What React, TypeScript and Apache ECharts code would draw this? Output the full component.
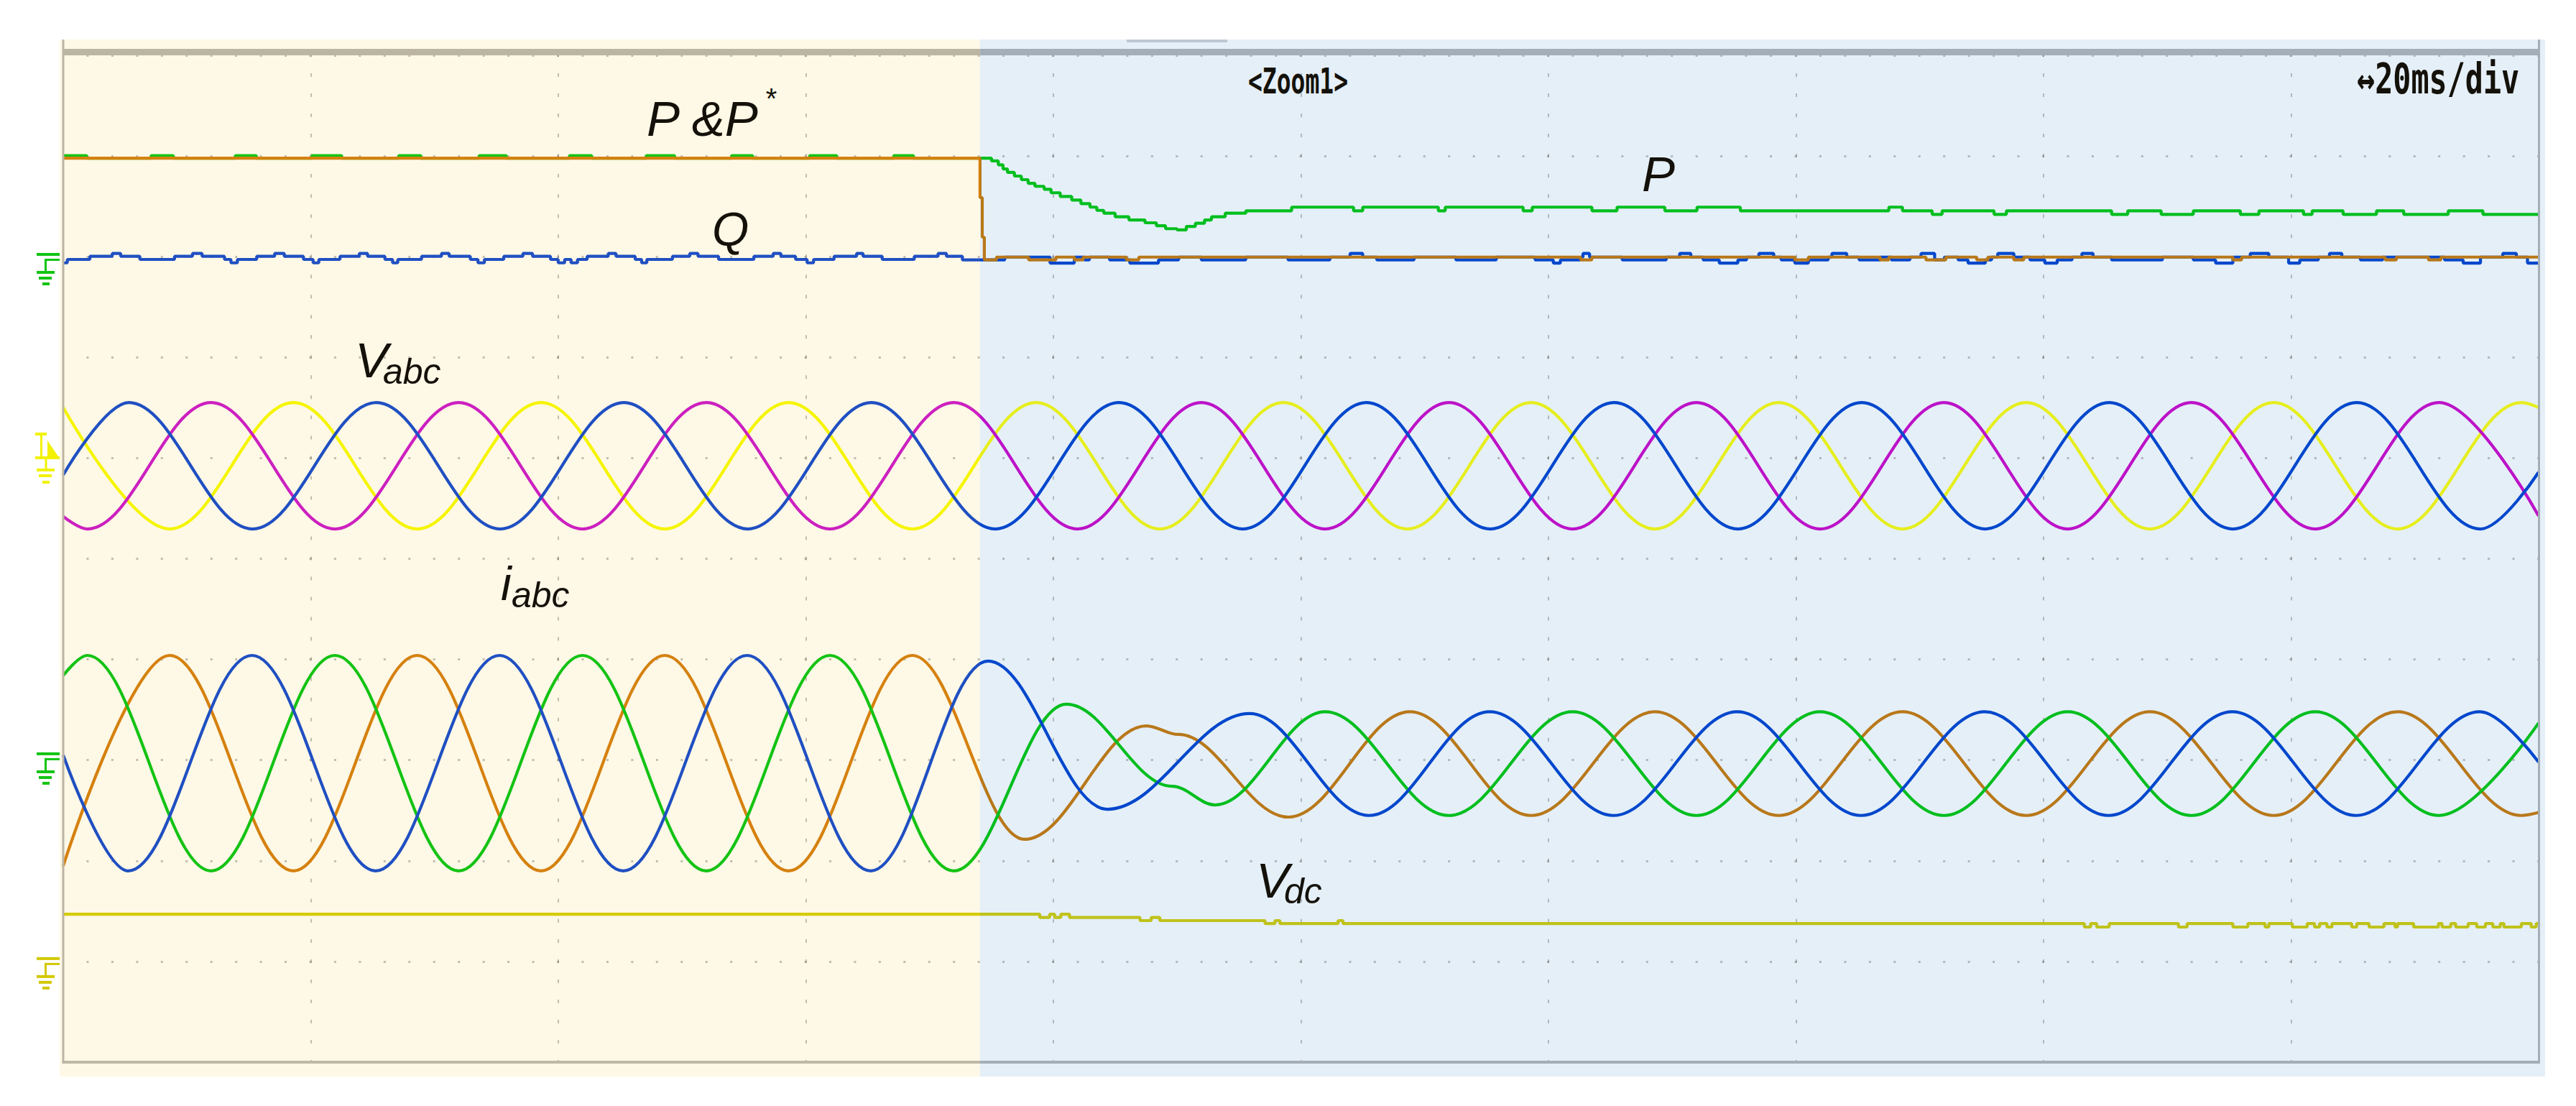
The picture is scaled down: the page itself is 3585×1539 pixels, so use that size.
import React, { useEffect, useRef } from "react";
import * as echarts from "echarts";

type Pt = [number, number];

const CANVAS_W = 3585;
const CANVAS_H = 1539;

// time axis: 20 ms/div, 10 divisions ; level axis: 10 divisions
const TIME_MIN = 0;
const TIME_MAX = 200;
const TIME_DIV = 20;
const LEVEL_MIN = -5;
const LEVEL_MAX = 5;
const LEVEL_DIV = 1;
const EVENT_TIME = 74.07; // ms where the zoom window (blue) starts

// channel ground-marker levels (divisions): P/Q, Vabc, iabc, Vdc
const groundLevels = [3.037, 1.253, -1.923, -3.957];

// ---------- Vabc extremes [ms, div] ----------
const vaBlue: Pt[] = [[0,0.832],[5.3,1.552],[15.3,0.296],[25.3,1.552],[35.3,0.296],[45.3,1.552],[55.3,0.296],[65.3,1.552],[75.3,0.296],[85.3,1.552],[95.3,0.296],[105.3,1.552],[115.3,0.296],[125.3,1.552],[135.3,0.296],[145.3,1.552],[155.3,0.296],[165.3,1.552],[175.3,0.296],[185.3,1.552],[195.3,0.296],[200,0.86]];
const vaMagenta: Pt[] = [[0,0.421],[1.95,0.296],[11.95,1.552],[21.95,0.296],[31.95,1.552],[41.95,0.296],[51.95,1.552],[61.95,0.296],[71.95,1.552],[81.95,0.296],[91.95,1.552],[101.95,0.296],[111.95,1.552],[121.95,0.296],[131.95,1.552],[141.95,0.296],[151.95,1.552],[161.95,0.296],[171.95,1.552],[181.95,0.296],[191.95,1.552],[200,0.425]];
const vaYellow: Pt[] = [[0,1.502],[8.6,0.296],[18.6,1.552],[28.6,0.296],[38.6,1.552],[48.6,0.296],[58.6,1.552],[68.6,0.296],[78.6,1.552],[88.6,0.296],[98.6,1.552],[108.6,0.296],[118.6,1.552],[128.6,0.296],[138.6,1.552],[148.6,0.296],[158.6,1.552],[168.6,0.296],[178.6,1.552],[188.6,0.296],[198.6,1.552],[200,1.502]];

// ---------- iabc extremes [ms, div] ----------
const iaGreen: Pt[] = [[0,-1.16],[1.95,-0.96],[11.95,-3.10],[21.95,-0.96],[31.95,-3.10],[41.95,-0.96],[51.95,-3.10],[61.95,-0.96],[71.95,-3.10],[81.05,-1.445],[89.6,-2.26],[93.07,-2.445],[101.95,-1.52],[111.95,-2.55],[121.95,-1.52],[131.95,-2.55],[141.95,-1.52],[151.95,-2.55],[161.95,-1.52],[171.95,-2.55],[181.95,-1.52],[191.95,-2.55],[200,-1.63]];
const iaOrange: Pt[] = [[0,-3.05],[8.6,-0.96],[18.6,-3.10],[28.6,-0.96],[38.6,-3.10],[48.6,-0.96],[58.6,-3.10],[68.6,-0.96],[77.68,-2.787],[87.5,-1.66],[90.1,-1.745],[98.99,-2.566],[108.8,-1.52],[118.6,-2.55],[128.6,-1.52],[138.6,-2.55],[148.6,-1.52],[158.6,-2.55],[168.6,-1.52],[178.6,-2.55],[188.6,-1.52],[198.6,-2.55],[200,-2.52]];
const iaBlue: Pt[] = [[0,-1.95],[5.25,-3.10],[15.25,-0.96],[25.25,-3.10],[35.25,-0.96],[45.25,-3.10],[55.25,-0.96],[65.25,-3.10],[74.72,-1.016],[84.36,-2.488],[95.86,-1.538],[105.5,-2.55],[115.25,-1.52],[125.25,-2.55],[135.25,-1.52],[145.25,-2.55],[155.25,-1.52],[165.25,-2.55],[175.25,-1.52],[185.25,-2.55],[195.25,-1.52],[200,-2.02]];

// ---------- P (measured), P* (reference), Q : step traces ----------
const pMeasured: Pt[] = [[0,4.004],[1.9,3.979],[7.1,4.004],[8.9,3.979],[13.9,4.004],[15.6,3.979],[20.1,4.004],[22.5,3.979],[27.1,4.004],[28.9,3.979],[33.6,4.004],[35.8,3.979],[40.9,4.004],[42.7,3.979],[47.1,4.004],[49.4,3.979],[54.0,4.004],[55.7,3.979],[60.3,4.004],[62.5,3.979],[67.1,4.004],[68.7,3.979],
[74.07,3.979],[75.0,3.951],[75.55,3.913],[75.93,3.872],[76.29,3.837],[76.85,3.801],[77.41,3.765],[77.96,3.729],[78.51,3.699],[79.25,3.670],[79.81,3.635],[80.55,3.599],[81.48,3.563],[82.22,3.527],[82.96,3.492],[83.51,3.460],[84.07,3.432],[84.99,3.396],[86.10,3.365],[87.40,3.337],[88.32,3.308],[89.06,3.278],[89.99,3.266],[90.74,3.301],[91.47,3.332],[92.21,3.365],[92.77,3.396],[93.88,3.432],[95.55,3.456],[99.25,3.492],
[104.25,3.456],[104.99,3.492],[111.1,3.456],[111.66,3.492],[117.95,3.456],[118.69,3.492],[123.51,3.456],[125.54,3.492],[129.4,3.456],[132.0,3.492],[135.5,3.456],[147.5,3.492],[148.6,3.456],[151.0,3.420],[151.8,3.456],[156.0,3.420],[157.0,3.456],[165.5,3.420],[166.8,3.456],[169.5,3.420],[172.1,3.456],[175.9,3.420],[177.4,3.456],[181.0,3.420],[181.7,3.456],[184.2,3.420],[186.9,3.456],[189.1,3.420],[192.7,3.456],[195.5,3.420],[200,3.420]];
const pReference: Pt[] = [[0,3.979],[74.0,3.979],[74.07,3.587],[74.25,3.194],[74.42,2.968],[75.4,2.996],[78.0,2.968],[80.2,2.996],[81.7,2.968],[82.4,2.996],[85.9,2.968],[86.9,2.996],[122.6,2.968],[123.5,2.996],[139.9,2.968],[141.0,2.996],[146.8,2.968],[147.5,2.996],[150.5,2.968],[152.1,2.996],[154.6,2.968],[155.5,2.996],[157.6,2.968],[158.4,2.996],[175.3,2.968],[176.0,2.996],[187.6,2.968],[188.5,2.996],[191.1,2.968],[192.1,2.996],[200,2.996]];
const qMeasured: Pt[] = [[0,2.939],[0.33,2.973],[2.15,3.004],[3.96,3.032],[4.64,3.004],[6.19,2.973],[8.99,3.004],[10.44,3.032],[11.22,3.004],[13.03,2.973],[13.55,2.939],[14.07,2.973],[15.63,3.004],[17.08,3.032],[17.86,3.004],[19.41,2.973],[20.19,2.939],[20.65,2.973],[22.36,3.004],[23.92,3.032],[24.59,3.004],[25.99,2.973],[26.61,2.939],[27.03,2.973],[28.95,3.004],[30.56,3.032],[31.18,3.004],[32.89,2.973],[33.51,2.939],[34.03,2.973],[35.59,3.004],[37.14,3.032],[37.92,3.004],[39.37,2.973],[39.99,2.939],[40.51,2.973],[41.03,2.939],[41.55,2.973],[42.33,3.004],[44.03,3.032],[44.66,3.004],[46.21,2.973],[46.73,2.939],[47.15,2.973],[49.22,3.004],[50.62,3.032],[51.29,3.004],[52.95,2.973],[55.80,3.004],[57.36,3.032],[57.98,3.004],[59.17,2.973],[60.10,2.939],[60.62,2.973],[62.28,3.004],[64.10,3.032],[64.62,3.004],[66.17,2.973],[68.76,3.004],[70.68,3.032],[71.36,3.004],[72.65,2.968],
[76.07,2.996],[79.73,2.937],[81.69,2.996],[82.50,2.968],[82.91,2.996],[84.54,2.968],[86.17,2.937],[88.49,2.968],[90.12,2.996],[91.95,2.968],[95.54,2.996],[98.96,2.968],[102.34,2.996],[103.97,3.032],[104.99,2.996],[106.13,2.968],[109.14,2.996],[112.52,2.968],[115.78,2.996],[118.92,2.968],[120.39,2.937],[120.96,2.968],[122.58,2.996],[122.79,3.032],[123.32,2.996],[125.96,2.968],[129.51,2.996],[130.6,3.032],[131.5,2.996],[132.5,2.968],[133.8,2.937],[135.3,2.968],[136.0,2.996],[137.0,3.032],[138.2,2.996],[138.8,2.968],[139.9,2.937],[141.0,2.968],[142.6,2.996],[142.9,3.032],[144.1,2.996],[145.1,2.968],[146.8,2.996],[147.7,2.968],[149.2,2.996],[150.1,3.032],[151.2,2.968],[152.0,2.996],[153.1,2.968],[153.9,2.937],[155.3,2.968],[155.8,2.996],[156.3,3.032],[157.6,2.996],[158.9,2.968],[160.1,2.937],[161.1,2.968],[162.3,2.996],[163.1,3.032],[164.0,2.996],[165.5,2.968],[169.6,2.996],[172.1,2.968],[173.9,2.937],[175.3,2.996],[176.7,3.032],[178.2,2.996],[179.8,2.937],[180.7,2.968],[182.2,2.996],[183.1,3.032],[184.1,2.996],[185.6,2.968],[187.4,2.996],[192.4,2.968],[193.9,2.937],[195.3,2.996],[197.1,3.032],[198.2,2.996],[199.1,2.937],[200,2.937]];

// ---------- Vdc step trace ----------
const vdc: Pt[] = [[0,-3.53],[78.9,-3.563],[79.7,-3.53],[80.1,-3.563],[80.6,-3.53],[81.3,-3.563],[87.0,-3.594],[87.9,-3.563],[88.6,-3.594],[97.1,-3.624],[97.9,-3.594],[98.3,-3.624],[103.0,-3.594],[103.4,-3.624],[163.3,-3.658],[163.8,-3.624],[164.3,-3.658],[165.3,-3.624],[170.9,-3.658],[171.6,-3.624],[175.3,-3.658],[176.5,-3.624],[177.9,-3.658],[178.2,-3.624],[180.1,-3.658],[181.3,-3.624],[181.9,-3.658],[182.3,-3.624],[182.9,-3.658],[183.3,-3.624],[184.9,-3.658],[185.3,-3.624],[186.3,-3.658],[187.5,-3.624],[188.4,-3.658],[188.6,-3.624],[189.9,-3.658],[191.9,-3.624],[192.2,-3.658],[192.9,-3.624],[193.3,-3.658],[194.3,-3.624],[195.0,-3.658],[195.7,-3.624],[196.3,-3.658],[196.9,-3.624],[197.2,-3.658],[198.6,-3.624],[199.4,-3.658],[199.8,-3.624],[200,-3.624]];

// trace colours: [before zoom window, inside zoom window]
const C_VBLUE: [string, string] = ["#1F4FC2", "#0047CC"];
const C_MAG: [string, string] = ["#CC20C0", "#BC12C8"];
const C_YEL: [string, string] = ["#F5F500", "#E6EE1E"];
const C_GREEN: [string, string] = ["#14C314", "#00BE1E"];
const C_ORANGE: [string, string] = ["#D5810E", "#B8781A"];
const C_VDC: [string, string] = ["#D5CB00", "#BFC21A"];

const FONT = '"Liberation Sans", Arial, sans-serif';
const MONO = '"DejaVu Sans Mono", monospace';

export default function App() {
  const ref = useRef<HTMLDivElement>(null);

  useEffect(() => {
    const el = ref.current;
    if (!el) return;
    const chart = echarts.init(el, undefined, { renderer: "svg" });

    const traces: { name: string; data: Pt[]; col: [string, string]; step: boolean }[] = [
      { name: "Vdc", data: vdc, col: C_VDC, step: true },
      { name: "Va", data: vaYellow, col: C_YEL, step: false },
      { name: "Vb", data: vaMagenta, col: C_MAG, step: false },
      { name: "Vc", data: vaBlue, col: C_VBLUE, step: false },
      { name: "ib", data: iaOrange, col: C_ORANGE, step: false },
      { name: "ia", data: iaGreen, col: C_GREEN, step: false },
      { name: "ic", data: iaBlue, col: C_VBLUE, step: false },
      { name: "Q", data: qMeasured, col: C_VBLUE, step: true },
      { name: "P", data: pMeasured, col: C_GREEN, step: true },
      { name: "P*", data: pReference, col: C_ORANGE, step: true },
    ];

    const dotColor = "rgba(85,85,80,0.36)";

    chart.setOption({
      animation: false,
      backgroundColor: "#ffffff",
      grid: { left: 88, top: 77, width: 3445, height: 1401, show: false },
      xAxis: {
        type: "value", min: TIME_MIN, max: TIME_MAX, interval: TIME_DIV,
        axisLine: { show: false }, axisTick: { show: false }, axisLabel: { show: false },
        splitLine: { show: true, lineStyle: { color: dotColor, width: 2, type: [5, 23.02], dashOffset: 2.5 } },
      },
      yAxis: {
        type: "value", min: LEVEL_MIN, max: LEVEL_MAX, interval: LEVEL_DIV,
        axisLine: { show: false }, axisTick: { show: false }, axisLabel: { show: false },
        splitLine: { show: true, lineStyle: { color: dotColor, width: 3, type: [3, 31.45], dashOffset: 1.5 } },
      },
      series: traces.map((t) => ({
        name: t.name,
        type: "line",
        data: t.data,
        symbol: "none",
        showSymbol: false,
        silent: true,
        ...(t.step ? { step: "end" } : { smooth: 0.363, smoothMonotone: "x" }),
        lineStyle: { width: 4.2, color: t.col[0] },
      })),
    });

    const px = (t: number) => chart.convertToPixel({ xAxisIndex: 0 }, t) as number;
    const py = (v: number) => chart.convertToPixel({ yAxisIndex: 0 }, v) as number;
    const x0 = px(TIME_MIN);
    const x1 = px(TIME_MAX);
    const xe = px(EVENT_TIME);
    const yTop = py(LEVEL_MAX);
    const yBot = py(LEVEL_MIN);
    const f = (xe - x0) / (x1 - x0);
    const split = (c: [string, string]) =>
      new echarts.graphic.LinearGradient(x0, 0, x1, 0, [
        { offset: 0, color: c[0] }, { offset: f, color: c[0] },
        { offset: f, color: c[1] }, { offset: 1, color: c[1] },
      ], true);

    const rect = (x: number, y: number, w: number, h: number, fill: string, z: number) => ({
      type: "rect", silent: true, z, shape: { x, y, width: w, height: h }, style: { fill },
    });

    const panelTop = yTop - 22;
    const panelBot = yBot + 20;
    const graphics: any[] = [
      rect(x0 - 5, panelTop, xe - (x0 - 5), panelBot - panelTop, "#FEF8E6", -10),
      rect(xe, panelTop, x1 + 9 - xe, panelBot - panelTop, "#E5EFF8", -10),
      // top bar
      rect(x0, yTop - 9, xe - x0, 9, "#BDB5A3", 5),
      rect(xe, yTop - 9, x1 - xe, 9, "#A4AEB8", 5),
      rect(1568, panelTop, 140, 4, "#BDC7D4", 5),
      // borders
      rect(x0 - 1.5, panelTop, 3, yBot - panelTop + 2, "#BDB5A3", 5),
      rect(x0 - 1.5, yBot - 2, xe - x0 + 1.5, 4, "#BFB7A7", 5),
      rect(xe, yBot - 2, x1 - xe + 2, 4, "#A5AEB7", 5),
      rect(x1 - 1, panelTop, 3, yBot - panelTop + 2, "#A5AEB7", 5),
    ];

    const ground = (color: string, y0: number) => [
      rect(51, y0, 32, 4, color, 20),
      rect(62, y0 + 8, 21, 3, color, 20),
      rect(62, y0 + 8, 3, 18, color, 20),
      rect(51, y0 + 25, 25, 4, color, 20),
      rect(54, y0 + 33, 18, 4, color, 20),
      rect(59, y0 + 41, 10, 4, color, 20),
    ];
    graphics.push(...ground("#12C412", py(groundLevels[0])));
    graphics.push(...ground("#12C412", py(groundLevels[2])));
    graphics.push(...ground("#D2C800", py(groundLevels[3])));
    // Vabc channel marker with trigger arrow
    const yv = py(groundLevels[1]);
    const yc = "#F2F200";
    graphics.push(
      rect(49, yv, 16, 4, yc, 20),
      rect(56, yv + 4, 3, 32, yc, 20),
      { type: "polygon", silent: true, z: 20, shape: { points: [[66, yv + 11], [83, yv + 36], [66, yv + 36]] }, style: { fill: yc } },
      rect(49, yv + 33, 34, 4, yc, 20),
      rect(62.5, yv + 36, 3, 16, yc, 20),
      rect(51, yv + 50, 25, 4, yc, 20),
      rect(54, yv + 58, 18, 4, yc, 20),
      rect(59, yv + 67, 10, 4, yc, 20),
    );

    const label = (text: string, x: number, y: number, size: number, extra: any = {}) => ({
      type: "text", silent: true, z: 30, x, y, ...extra.el,
      style: {
        text, x: 0, y: 0, fill: "#14110A", fontSize: size, fontFamily: extra.family || FONT,
        fontStyle: extra.normal ? "normal" : "italic", fontWeight: extra.weight || "normal",
        align: "left", verticalAlign: "middle",
      },
    });
    graphics.push(
      label("P &P", 900, 165, 69),
      label("*", 1064, 137, 40),
      label("Q", 991, 319, 66),
      label("P", 2285, 242, 69),
      label("V", 494, 501, 69),
      label("abc", 533, 517, 50),
      label("i", 697, 812, 66),
      label("abc", 712, 828, 50),
      label("V", 1748, 1225, 69),
      label("dc", 1787, 1240, 50),
      label("<Zoom1>", 1737, 113, 50, { family: MONO, weight: "bold", normal: true, el: { scaleX: 0.66 } }),
      label("\u219420ms/div", 3280, 110, 58, { family: MONO, weight: "bold", normal: true, el: { scaleX: 0.72 } }),
    );

    chart.setOption({
      series: traces.map((t) => ({ lineStyle: { color: split(t.col) } })),
      graphic: graphics,
    });

    return () => chart.dispose();
  }, []);

  return (
    <div
      ref={ref}
      style={{ position: "fixed", left: 0, top: 0, width: CANVAS_W, height: CANVAS_H, background: "#fff" }}
    />
  );
}
